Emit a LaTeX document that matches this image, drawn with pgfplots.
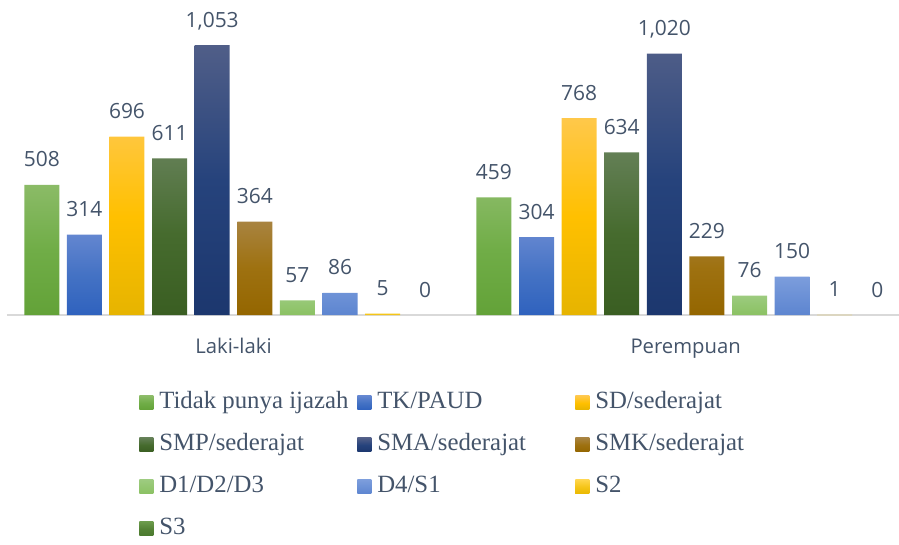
\documentclass[border=0pt]{standalone}
\usepackage{pgfplots}
\pgfplotsset{compat=1.18}
\usepackage{fontspec}
\setmainfont{Liberation Serif}
\newfontfamily\lab{Open Sans}
\definecolor{txt}{HTML}{44546A}
\definecolor{axl}{HTML}{D9D9D9}
\definecolor{aT}{HTML}{8BBB67}\definecolor{aM}{HTML}{70AD47}\definecolor{aB}{HTML}{63A238}
\definecolor{bT}{HTML}{6386D0}\definecolor{bM}{HTML}{4472C4}\definecolor{bB}{HTML}{2F62BE}
\definecolor{cT}{HTML}{FFC84A}\definecolor{cM}{HTML}{FFC000}\definecolor{cB}{HTML}{E6B400}
\definecolor{dT}{HTML}{637F55}\definecolor{dM}{HTML}{466B2E}\definecolor{dB}{HTML}{3A5E22}
\definecolor{eT}{HTML}{505E88}\definecolor{eM}{HTML}{26437C}\definecolor{eB}{HTML}{1C376E}
\definecolor{fT}{HTML}{A8833F}\definecolor{fM}{HTML}{9E7110}\definecolor{fB}{HTML}{946600}
\definecolor{gT}{HTML}{9DCB7F}\definecolor{gM}{HTML}{93C670}\definecolor{gB}{HTML}{8BC163}
\definecolor{hT}{HTML}{7C9DDC}\definecolor{hM}{HTML}{6C91D6}\definecolor{hB}{HTML}{5D85D0}
\definecolor{iT}{HTML}{FFD54A}\definecolor{iM}{HTML}{F5C518}\definecolor{iB}{HTML}{E9B800}
\definecolor{jT}{HTML}{6A9A4A}\definecolor{jM}{HTML}{548235}\definecolor{jB}{HTML}{4A7A2E}
\newcommand{\legtxt}[1]{\makebox[139pt][l]{#1}}
\begin{document}
\begin{tikzpicture}
\useasboundingbox (0,0) rectangle (674.25pt,408pt);
\begin{axis}[
  at={(5.25pt,171.75pt)}, anchor=south west,
  scale only axis, width=669pt, height=230.7pt,
  xmin=-0.501, xmax=1.472, ymin=0, ymax=1200,
  clip=false,
  axis y line=none, axis x line*=bottom,
  axis line style={draw=axl, line width=1pt},
  xtick={0,1}, xticklabels={Laki-laki,Perempuan},
  ytick=\empty,
  major tick length=0pt,
  xticklabel style={font=\lab\fontsize{15.2}{18}\selectfont, text=txt, anchor=base, yshift=-28.5pt},
  ybar, bar width=26.25pt,
  nodes near coords={\pgfmathprintnumber[fixed,precision=0,1000 sep={,},assume math mode=true]{\pgfplotspointmeta}},
  every node near coord/.append style={font=\lab\fontsize{15.7}{18}\selectfont, text=txt, anchor=base, yshift=13.5pt},
  legend columns=3,
  legend image code/.code={\path[#1] (0pt,-5.25pt) rectangle (10.5pt,5.25pt);},
  legend style={at={(0.148,-0.2503)}, anchor=north west, draw=none, fill=none, inner sep=0pt,
    font=\fontsize{18.6}{21}\selectfont, text=txt, row sep=15.5pt,
    /tikz/every even column/.append style={column sep=5pt},
    nodes={inner xsep=4.5pt, inner ysep=0pt, text height=12.5pt, text depth=3.5pt, anchor=west}},
]
\addplot[draw=none, top color=aT, bottom color=aB, middle color=aM, bar shift=-143.78pt] coordinates {(0,508) (1,459)};
\addlegendentry{\legtxt{Tidak punya ijazah}}
\addplot[draw=none, top color=bT, bottom color=bB, middle color=bM, bar shift=-111.83pt] coordinates {(0,314) (1,304)};
\addlegendentry{\legtxt{TK/PAUD}}
\addplot[draw=none, top color=cT, bottom color=cB, middle color=cM, bar shift=-79.88pt] coordinates {(0,696) (1,768)};
\addlegendentry{\legtxt{SD/sederajat}}
\addplot[draw=none, top color=dT, bottom color=dB, middle color=dM, bar shift=-47.93pt] coordinates {(0,611) (1,634)};
\addlegendentry{\legtxt{SMP/sederajat}}
\addplot[draw=none, top color=eT, bottom color=eB, middle color=eM, bar shift=-15.98pt] coordinates {(0,1053) (1,1020)};
\addlegendentry{\legtxt{SMA/sederajat}}
\addplot[draw=none, top color=fT, bottom color=fB, middle color=fM, bar shift=15.98pt] coordinates {(0,364) (1,229)};
\addlegendentry{\legtxt{SMK/sederajat}}
\addplot[draw=none, top color=gT, bottom color=gB, middle color=gM, bar shift=47.93pt] coordinates {(0,57) (1,76)};
\addlegendentry{\legtxt{D1/D2/D3}}
\addplot[draw=none, top color=hT, bottom color=hB, middle color=hM, bar shift=79.88pt] coordinates {(0,86) (1,150)};
\addlegendentry{\legtxt{D4/S1}}
\addplot[draw=none, fill=iM, bar shift=111.83pt,
  legend image code/.code={\path[draw=none, top color=iT, bottom color=iB, middle color=iM] (0pt,-5.25pt) rectangle (10.5pt,5.25pt);}] coordinates {(0,5) (1,1)};
\addlegendentry{\legtxt{S2}}
\addplot[draw=none, fill=none, bar shift=143.78pt,
  legend image code/.code={\path[draw=none, top color=jT, bottom color=jB, middle color=jM] (0pt,-5.25pt) rectangle (10.5pt,5.25pt);}] coordinates {(0,0) (1,0)};
\addlegendentry{\legtxt{S3}}
\end{axis}
\end{tikzpicture}
\end{document}
